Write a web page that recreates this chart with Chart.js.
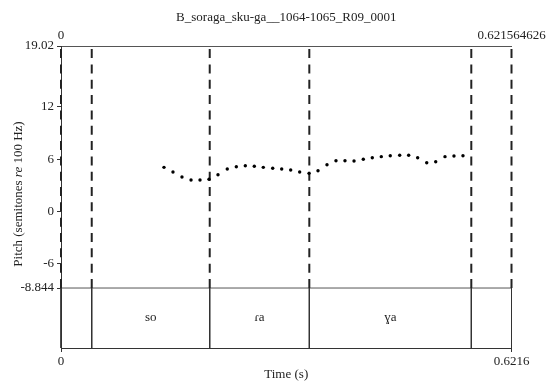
<!DOCTYPE html>
<html>
<head>
<meta charset="utf-8">
<script src="https://cdn.jsdelivr.net/npm/chart.js@4/dist/chart.umd.min.js"></script>
<style>
  html, body { margin: 0; padding: 0; background: #fff; }
</style>
</head>
<body>
<canvas id="pitch" width="547" height="381"></canvas>
<script>
const fileName = "B_soraga_sku-ga__1064-1065_R09_0001";
const duration = 0.621564626;
const pitchTop = 19.02;
const pitchBottom = -8.844;
const tierBottom = -15.75;
const yTicks = [19.02, 12, 6, 0, -6, -8.844];

// textgrid boundaries (s) and interval labels
const boundaries = [0, 0.0424, 0.2052, 0.3426, 0.5661, 0.621564626];
const syllables = ["", "so", "ɾa", "ɣa", ""];

// pitch track
const pitchTimes = [0.1421, 0.1545, 0.1669, 0.1794, 0.1918, 0.2042, 0.2166, 0.2294, 0.2419, 0.2543,
  0.2667, 0.2791, 0.2921, 0.3045, 0.3169, 0.3293, 0.3422, 0.3546, 0.3670, 0.3794,
  0.3918, 0.4043, 0.4171, 0.4295, 0.4419, 0.4543, 0.4673, 0.4797, 0.4921, 0.5046,
  0.5170, 0.5298, 0.5422, 0.5546];
const pitchValues = [5.05, 4.51, 3.94, 3.59, 3.59, 3.67, 4.20, 4.86, 5.12, 5.24,
  5.17, 5.05, 4.94, 4.86, 4.74, 4.51, 4.36, 4.66, 5.35, 5.81,
  5.81, 5.78, 5.98, 6.16, 6.28, 6.39, 6.44, 6.44, 6.16, 5.58,
  5.70, 6.28, 6.36, 6.39];

const serif = "'Liberation Serif', 'Times New Roman', serif";
const ink = "#222";

const dashed = [];
const solid = [];
boundaries.forEach(b => {
  dashed.push({x: b, y: pitchBottom}, {x: b, y: pitchTop}, {x: b, y: null});
  solid.push({x: b, y: pitchBottom}, {x: b, y: tierBottom}, {x: b, y: null});
});

function endTicks(scale) {
  scale.ticks = [{value: 0}, {value: duration}];
}

const extras = {
  id: "extras",
  afterDatasetsDraw(chart) {
    const ctx = chart.ctx;
    const x = chart.scales.x, y = chart.scales.y;
    ctx.save();
    ctx.fillStyle = ink;
    ctx.font = "13px " + serif;
    ctx.textAlign = "center";
    ctx.textBaseline = "middle";
    const midY = y.getPixelForValue((pitchBottom + tierBottom) / 2);
    syllables.forEach((s, i) => {
      if (!s) return;
      const mid = (boundaries[i] + boundaries[i + 1]) / 2;
      ctx.fillText(s, x.getPixelForValue(mid), midY);
    });

    // y title with italic "re"
    const parts = [["Pitch (semitones ", "13px " + serif], ["re", "italic 13px " + serif], [" 100 Hz)", "13px " + serif]];
    let total = 0;
    parts.forEach(p => { ctx.font = p[1]; total += ctx.measureText(p[0]).width; });
    ctx.translate(19, 194);
    ctx.rotate(-Math.PI / 2);
    ctx.textAlign = "left";
    let cx = -total / 2;
    parts.forEach(p => {
      ctx.font = p[1];
      ctx.fillText(p[0], cx, 0);
      cx += ctx.measureText(p[0]).width;
    });
    ctx.restore();
  }
};

new Chart(document.getElementById("pitch"), {
  type: "scatter",
  data: {
    datasets: [
      {
        data: pitchTimes.map((t, i) => ({x: t, y: pitchValues[i]})),
        pointRadius: 1.7,
        pointBackgroundColor: "#000",
        pointBorderWidth: 0,
        showLine: false
      },
      {
        data: dashed,
        showLine: true,
        spanGaps: false,
        pointRadius: 0,
        borderColor: "#222",
        borderWidth: 2,
        borderDash: [9, 6.33],
        clip: 4
      },
      {
        data: solid,
        showLine: true,
        spanGaps: false,
        pointRadius: 0,
        borderColor: "#333",
        borderWidth: 1,
        clip: 4
      },
      {
        data: [{x: 0, y: pitchBottom}, {x: duration, y: pitchBottom}],
        showLine: true,
        pointRadius: 0,
        borderColor: "#555",
        borderWidth: 1
      }
    ]
  },
  options: {
    responsive: false,
    animation: false,
    devicePixelRatio: 1,
    layout: {padding: {left: 0, right: 35.5, top: 0, bottom: 0}},
    plugins: {
      legend: {display: false},
      tooltip: {enabled: false}
    },
    scales: {
      x: {
        type: "linear",
        position: "bottom",
        min: 0,
        max: duration,
        afterBuildTicks: endTicks,
        afterFit(s) { s.paddingLeft = 0; s.paddingRight = 0; s.height = 33; },
        ticks: {
          callback: v => v === 0 ? "0" : v.toFixed(4),
          color: ink,
          font: {family: serif, size: 13},
          padding: 2,
          maxRotation: 0,
          autoSkip: false
        },
        grid: {drawOnChartArea: false, drawTicks: true, tickLength: 4, color: "#333"},
        border: {display: true, color: "#333"},
        title: {
          display: true,
          text: "Time (s)",
          color: ink,
          font: {family: serif, size: 13, lineHeight: 1},
          padding: {top: 0, bottom: 0}
        }
      },
      xTop: {
        type: "linear",
        position: "top",
        min: 0,
        max: duration,
        afterBuildTicks: endTicks,
        afterFit(s) { s.paddingLeft = 0; s.paddingRight = 0; s.height = 46; },
        ticks: {
          callback: v => v === 0 ? "0" : String(duration),
          color: ink,
          font: {family: serif, size: 13},
          padding: 3,
          maxRotation: 0,
          autoSkip: false
        },
        grid: {display: false, drawTicks: false},
        border: {display: true, color: "#555"},
        title: {
          display: true,
          text: fileName,
          color: ink,
          font: {family: serif, size: 13, lineHeight: 1.2},
          padding: {top: 10, bottom: 0}
        }
      },
      y: {
        type: "linear",
        min: tierBottom,
        max: pitchTop,
        afterBuildTicks(s) { s.ticks = yTicks.map(v => ({value: v})); },
        afterFit(s) { s.width = 61; },
        ticks: {
          callback: v => String(v),
          color: ink,
          font: {family: serif, size: 13},
          padding: 3,
          autoSkip: false
        },
        grid: {drawOnChartArea: false, drawTicks: true, tickLength: 4, color: "#333"},
        border: {display: true, color: "#333"}
      }
    }
  },
  plugins: [extras]
});
</script>
</body>
</html>
